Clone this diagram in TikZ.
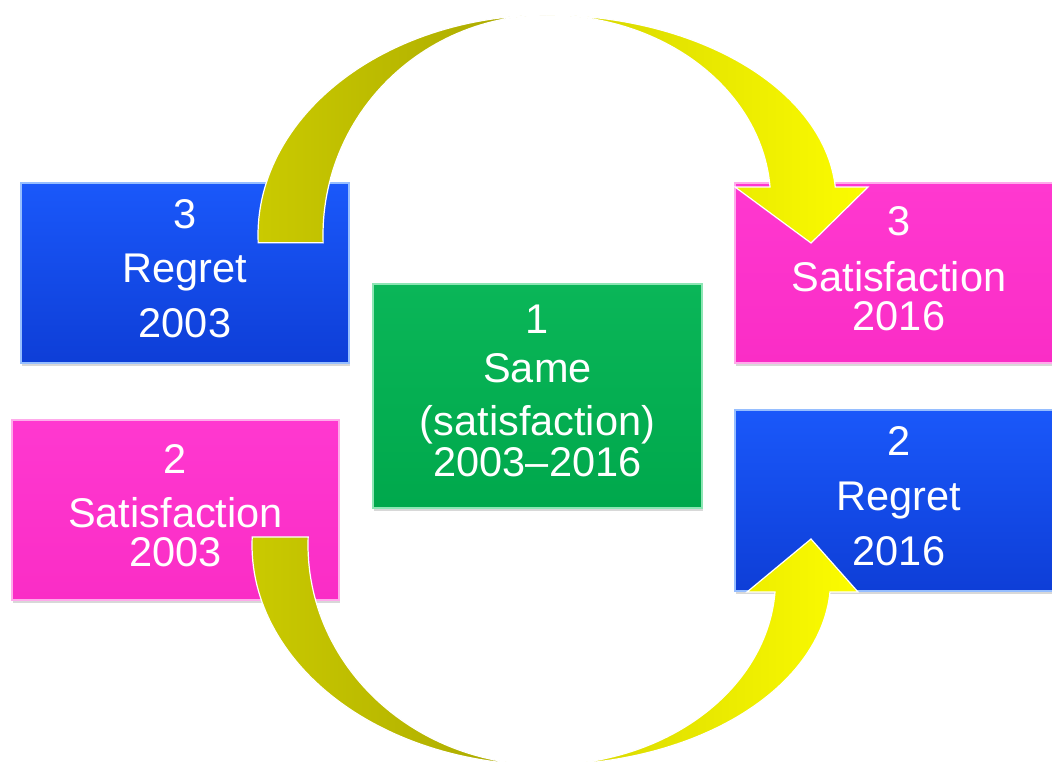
\documentclass[tikz,border=0pt]{standalone}
\usepackage{fontspec}
\setmainfont{Liberation Sans}
\usetikzlibrary{shadows}
\definecolor{bxblue}{RGB}{26,88,250}
\definecolor{bxblueD}{RGB}{14,62,215}
\definecolor{bxblueL}{RGB}{150,190,255}
\definecolor{bxpink}{RGB}{255,56,208}
\definecolor{bxpinkD}{RGB}{250,45,198}
\definecolor{bxpinkL}{RGB}{255,170,235}
\definecolor{bxgreen}{RGB}{10,182,88}
\definecolor{bxgreenD}{RGB}{0,168,76}
\definecolor{bxgreenL}{RGB}{140,230,180}
\definecolor{olA}{RGB}{202,202,0}
\definecolor{olB}{RGB}{168,166,0}
\definecolor{yeA}{RGB}{212,212,0}
\definecolor{yeB}{RGB}{252,252,0}
\tikzset{
  boxbase/.style={rectangle, inner sep=0pt, outer sep=0pt, line width=1.2pt,
    drop shadow={shadow xshift=1pt, shadow yshift=-3pt, opacity=0.3}},
  bluebox/.style={boxbase, top color=bxblue, bottom color=bxblueD, draw=bxblueL},
  pinkbox/.style={boxbase, top color=bxpink, bottom color=bxpinkD, draw=bxpinkL},
  greenbox/.style={boxbase, top color=bxgreen, bottom color=bxgreenD, draw=bxgreenL},
  boxtext/.style={text=white, align=center, inner sep=0pt, font=\fontsize{41.5}{40}\selectfont},
  darkband/.style={left color=olA, right color=olB, draw=white, line width=1.2pt, line join=miter},
  brightband/.style={left color=yeA, right color=yeB, draw=white, line width=1.2pt, line join=miter}
}
\begin{document}
\begin{tikzpicture}[x=1pt, y=-1pt]
\useasboundingbox (0,0) rectangle (1052,761);
\clip (0,0) rectangle (1052,761);
\fill[white] (0,0) rectangle (1052,761);

% boxes
\node[bluebox, minimum width=328pt, minimum height=180pt] (regA) at (185,273) {};
\node[pinkbox, minimum width=327pt, minimum height=180pt] (satA) at (175.5,510) {};
\node[greenbox, minimum width=329pt, minimum height=224pt] (same) at (537.5,396) {};
\node[pinkbox, minimum width=328pt, minimum height=180pt] (satB) at (899,273) {};
\node[bluebox, minimum width=328pt, minimum height=181pt] (regB) at (899,500.5) {};

% texts
\node[boxtext] (tregA) at ([yshift=4pt]regA.center) {3\\[14pt]Regret\\[15pt]2003};
\node[boxtext] (tsatA) at ([yshift=4pt]satA.center) {2\\[14pt]Satisfaction\\[-1pt]2003};
\node[boxtext] (tsame) at ([yshift=5pt]same.center) {1\\[9pt]Same\\[13pt](satisfaction)\\[1pt]2003–2016};
\node[boxtext] (tsatB) at ([yshift=4pt]satB.center) {3\\[16pt]Satisfaction\\[-1pt]2016};
\node[boxtext] (tregB) at ([yshift=4pt]regB.center) {2\\[15pt]Regret\\[15pt]2016};

% top curved arrow: Regret 2003 -> Satisfaction 2016
\path[darkband]
  plot[domain=182:90, samples=60] ({547+289*cos(\x)}, {235-220*sin(\x)})
  -- plot[domain=90:182, samples=60] ({547+224*cos(\x)}, {235-220*sin(\x)})
  -- cycle;
\path[brightband]
  plot[domain=90:4.03, samples=60] ({547+289*cos(\x)}, {200-185*sin(\x)})
  -- (868,187) -- (811,243) -- (735,187)
  -- plot[domain=4.03:90, samples=60] ({547+223.6*cos(\x)}, {200-185*sin(\x)})
  -- cycle;

% bottom curved arrow: Satisfaction 2003 -> Regret 2016
\path[darkband]
  plot[domain=177.9:270, samples=60] ({545+293*cos(\x)}, {545-220*sin(\x)})
  -- plot[domain=270:177.9, samples=60] ({545+237*cos(\x)}, {545-220*sin(\x)})
  -- cycle;
\path[brightband]
  plot[domain=270:356.28, samples=60] ({545+285.6*cos(\x)}, {580-185*sin(\x)})
  -- (858,592) -- (811,539) -- (747,592)
  -- plot[domain=356.28:270, samples=60] ({545+230.5*cos(\x)}, {580-185*sin(\x)})
  -- cycle;
\end{tikzpicture}
\end{document}
